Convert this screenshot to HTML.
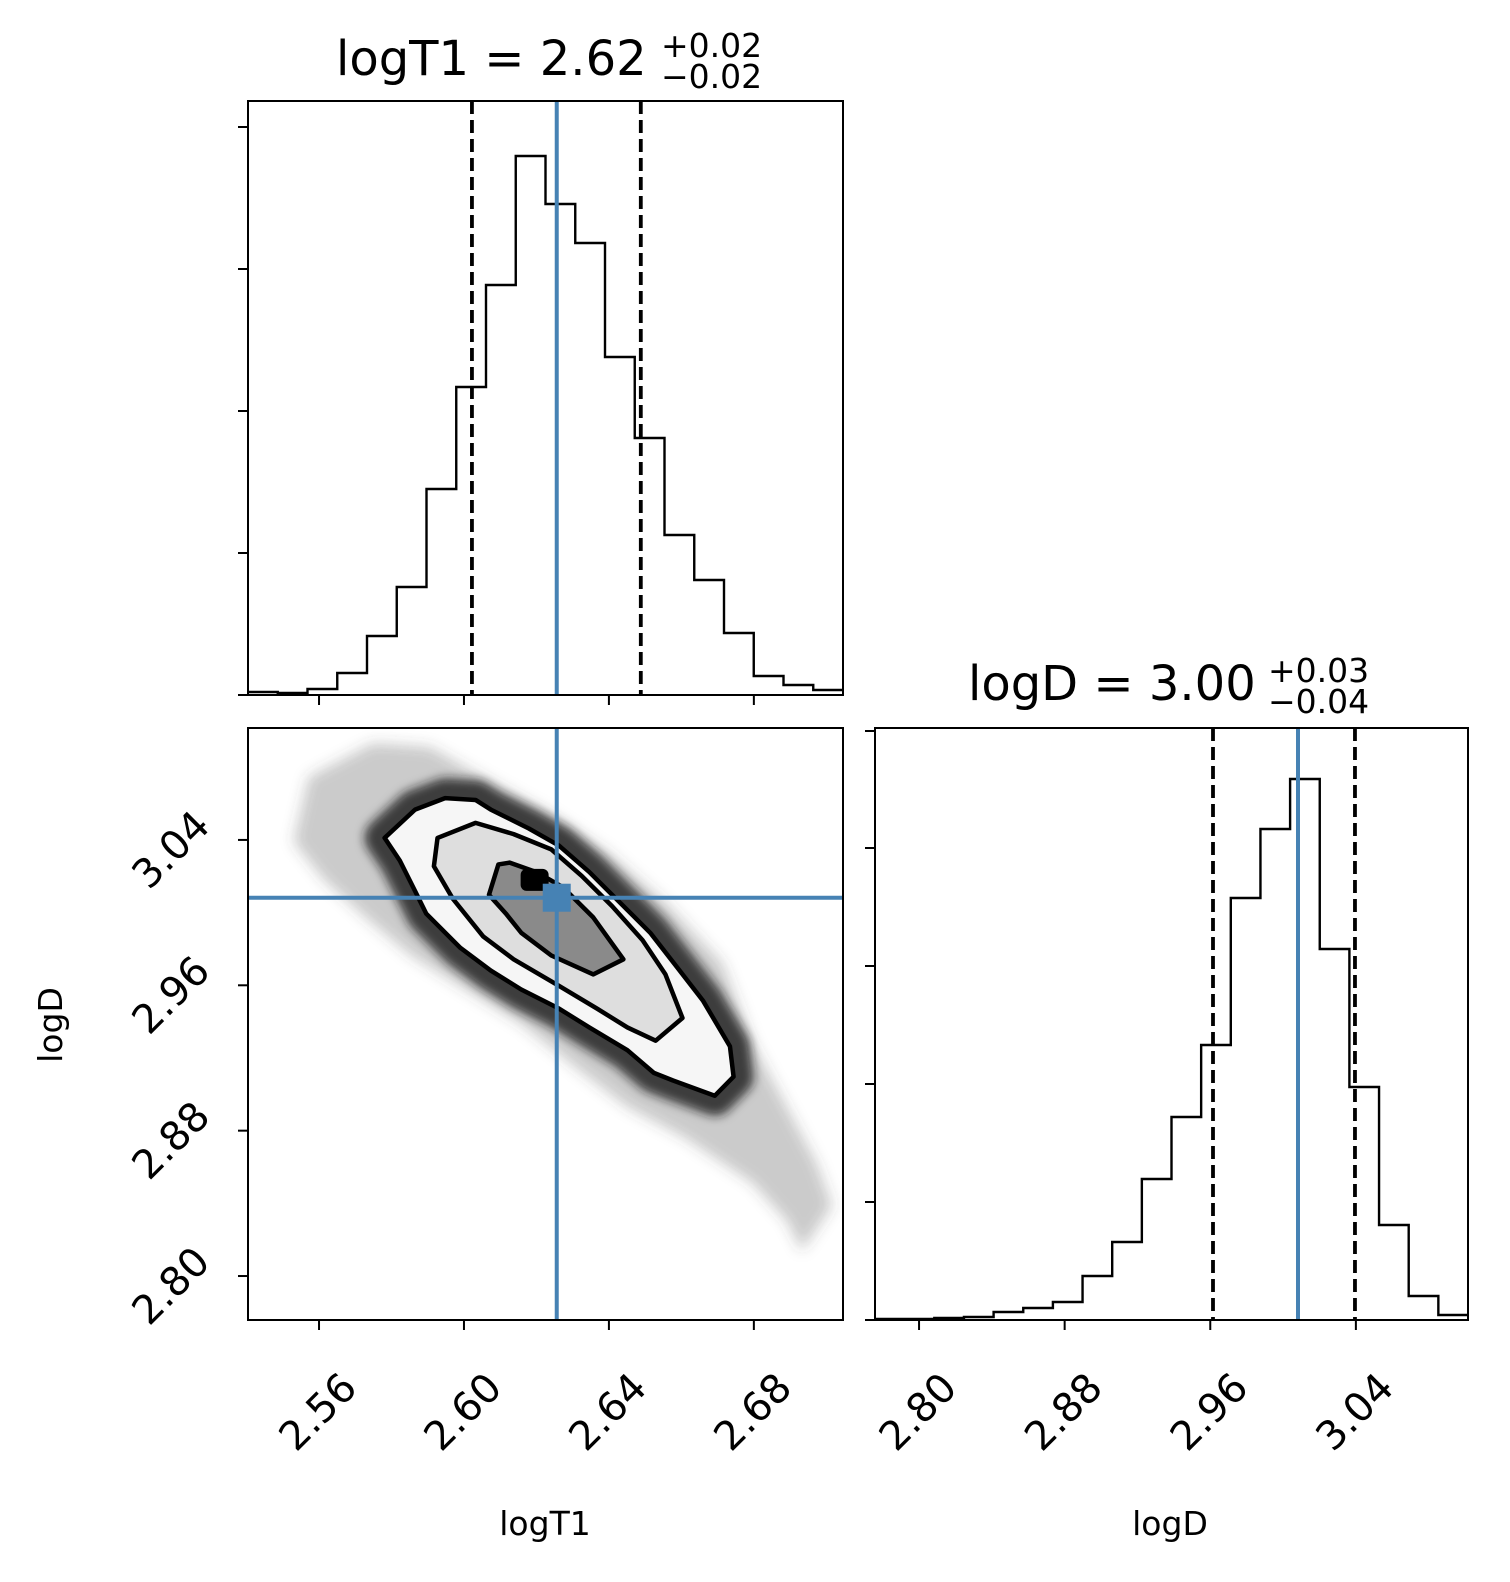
<!DOCTYPE html>
<html><head><meta charset="utf-8"><style>
html,body{margin:0;padding:0;background:#fff;overflow:hidden;}
svg{display:block;font-family:"DejaVu Sans","Liberation Sans",sans-serif;}
</style></head><body>
<svg id="fig" width="1510" height="1582" viewBox="0 0 1510 1582" xmlns="http://www.w3.org/2000/svg">
<defs>
<filter id="blur8" x="-20%" y="-20%" width="140%" height="140%"><feGaussianBlur stdDeviation="7"/></filter>
<filter id="blur4" x="-20%" y="-20%" width="140%" height="140%"><feGaussianBlur stdDeviation="5"/></filter>
<clipPath id="clip2d"><rect x="248" y="728" width="595" height="592"/></clipPath>
</defs>
<g id="root"></g>
</svg>
<script>
// ---- data ----
const histT1Counts = [3,2,6,22,59,108,206,308,410,539,491,452,338,257,160,115,62,19,10,5];
const histDCounts = [1,1,2,3,8,12,18,44,78,141,203,275,422,491,541,371,233,95,24,5];
const t1Range = [2.5404, 2.7046];
const dRange = [2.7758, 3.1016];
const t1Ticks = [2.56, 2.60, 2.64, 2.68];
const t1TickLabels = ["2.56","2.60","2.64","2.68"];
const dTicks = [2.80, 2.88, 2.96, 3.04];
const dTickLabels = ["2.80","2.88","2.96","3.04"];
const t1Quantiles = [2.6022, 2.6488];
const t1Median = 2.6256;
const dQuantiles = [2.9615, 3.0395];
const dMedian = 3.0082;
const histT1TickCounts = [0,142,284,426,568];
const histDTickCounts = [0,118,236,354,472,589];
const cloudX = [2.5571,2.5749,2.5906,2.6053,2.6242,2.6398,2.6556,2.6713,2.6796,2.6891,2.6974,2.7016,2.6932,2.6891,2.6796,2.6608,2.6451,2.6315,2.6158,2.5990,2.5854,2.5729,2.5613,2.5530];
const cloudY = [3.0745,3.0933,3.0912,3.0745,3.0536,3.0328,3.0056,2.9723,2.9284,2.8930,2.8617,2.8387,2.8137,2.8304,2.8513,2.8763,2.8930,2.9138,2.9389,2.9597,2.9764,2.9973,3.0182,3.0390];
const outerX = [2.5781,2.5865,2.5948,2.6032,2.6074,2.6179,2.6262,2.6346,2.6430,2.6514,2.6587,2.6660,2.6734,2.6744,2.6692,2.6577,2.6524,2.6451,2.6346,2.6262,2.6158,2.6074,2.5990,2.5896,2.5865,2.5823];
const outerY = [3.0411,3.0567,3.0630,3.0620,3.0567,3.0463,3.0369,3.0223,3.0056,2.9889,2.9702,2.9514,2.9264,2.9097,2.8992,2.9076,2.9118,2.9243,2.9368,2.9472,2.9577,2.9681,2.9806,2.9994,3.0119,3.0286];
const midX = [2.5917,2.5927,2.6032,2.6137,2.6241,2.6325,2.6409,2.6493,2.6556,2.6603,2.6529,2.6451,2.6367,2.6262,2.6137,2.6053,2.5969];
const midY = [3.0255,3.0411,3.0494,3.0432,3.0348,3.0202,3.0035,2.9848,2.9660,2.9420,2.9295,2.9368,2.9472,2.9597,2.9743,2.9869,3.0077];
const innerX = [2.6069,2.6095,2.6126,2.6200,2.6273,2.6357,2.6440,2.6357,2.6241,2.6158,2.6116];
const innerY = [3.0098,3.0265,3.0275,3.0223,3.0140,2.9973,2.9743,2.9660,2.9764,2.9889,2.9994];
const peakXY = [2.6195, 3.0180];

// ---- layout ----
const P1 = {x0:248,x1:843,y0:101,y1:695};
const P2 = {x0:248,x1:843,y0:728,y1:1320};
const P3 = {x0:875,x1:1468,y0:728,y1:1320};
const NS="http://www.w3.org/2000/svg";
const root=document.getElementById('root');
function mk(tag,attrs,parent){const e=document.createElementNS(NS,tag);for(const k in attrs)e.setAttribute(k,attrs[k]);(parent||root).appendChild(e);return e;}
const xT1 = v => P1.x0 + (v-t1Range[0])/(t1Range[1]-t1Range[0])*(P1.x1-P1.x0);
const yD2 = v => P2.y0 + (dRange[1]-v)/(dRange[1]-dRange[0])*(P2.y1-P2.y0);
const xD3 = v => P3.x0 + (v-dRange[0])/(dRange[1]-dRange[0])*(P3.x1-P3.x0);
const yH1 = c => P1.y1 - c/(568/(P1.y1-127));
const yH3 = c => P3.y1 - c;

function stepPath(counts, x0, x1, yf){
  const n=counts.length, w=(x1-x0)/n; let d=`M${x0},${yf(counts[0])}`;
  for(let i=0;i<n;i++){const xa=x0+i*w, xb=xa+w, y=yf(counts[i]); d+=` L${xa},${y} L${xb},${y}`;}
  return d;
}

// ---- panel 1: logT1 histogram ----
let g=mk('g',{});


let p=mk('path',{d:stepPath(histT1Counts,P1.x0,P1.x1,yH1),fill:'none',stroke:'#000','stroke-width':2.4},g);


t1Quantiles.forEach(q=>{const l=mk('line',{x1:xT1(q),x2:xT1(q),y1:P1.y0,y2:P1.y1,stroke:'#000','stroke-width':3.8,'stroke-dasharray':'13,6'},g);

});
let l=mk('line',{x1:xT1(t1Median),x2:xT1(t1Median),y1:P1.y0,y2:P1.y1,stroke:'#4682b4','stroke-width':4},g);


histT1TickCounts.forEach(c=>mk('line',{x1:P1.x0-10,x2:P1.x0,y1:yH1(c),y2:yH1(c),stroke:'#000','stroke-width':2},g));
t1Ticks.forEach(v=>mk('line',{x1:xT1(v),x2:xT1(v),y1:P1.y1,y2:P1.y1+10,stroke:'#000','stroke-width':2},g));
let fr=mk('rect',{x:P1.x0,y:P1.y0,width:P1.x1-P1.x0,height:P1.y1-P1.y0,fill:'none',stroke:'#000','stroke-width':2},g);



// ---- panel 2: 2D ----
g=mk('g',{'clip-path':'url(#clip2d)'});


const poly=(xs,ys)=>xs.map((x,i)=>`${xT1(x)},${yD2(ys[i])}`).join(' ');
let c=mk('polygon',{points:poly(cloudX,cloudY),fill:'#444','fill-opacity':0.28,filter:'url(#blur8)'},g);


let ring=mk('polygon',{points:poly(outerX,outerY),fill:'none',stroke:'#1a1a1a','stroke-opacity':0.8,'stroke-width':40,'stroke-linejoin':'round',filter:'url(#blur4)'},g);


let o=mk('polygon',{points:poly(outerX,outerY),fill:'#f6f6f6',stroke:'#000','stroke-width':4.5,'stroke-linejoin':'round'},g);


let m=mk('polygon',{points:poly(midX,midY),fill:'#dedede',stroke:'#000','stroke-width':4.5,'stroke-linejoin':'round'},g);


let i3=mk('polygon',{points:poly(innerX,innerY),fill:'#8a8a8a',stroke:'#000','stroke-width':4.5,'stroke-linejoin':'round'},g);


let pk=mk('rect',{x:xT1(peakXY[0])-14,y:yD2(peakXY[1])-11,width:28,height:22,rx:6,fill:'#000'},g);


let hl=mk('line',{x1:P2.x0,x2:P2.x1,y1:yD2(dMedian),y2:yD2(dMedian),stroke:'#4682b4','stroke-width':4},g);


let vl=mk('line',{x1:xT1(t1Median),x2:xT1(t1Median),y1:P2.y0,y2:P2.y1,stroke:'#4682b4','stroke-width':4},g);


let sq=mk('rect',{x:xT1(t1Median)-14,y:yD2(dMedian)-14,width:28,height:28,fill:'#4682b4'},g);


let g2=mk('g',{});
t1Ticks.forEach((v,k)=>{mk('line',{x1:xT1(v),x2:xT1(v),y1:P2.y1,y2:P2.y1+10,stroke:'#000','stroke-width':2},g2);
 const t=mk('text',{x:0,y:0,'font-size':40,'text-anchor':'end',transform:`translate(${xT1(v)+40},${P2.y1+70}) rotate(-45)`},g2);t.textContent=t1TickLabels[k];
 
 });
dTicks.forEach((v,k)=>{mk('line',{x1:P2.x0-10,x2:P2.x0,y1:yD2(v),y2:yD2(v),stroke:'#000','stroke-width':2},g2);
 const t=mk('text',{x:0,y:0,'font-size':40,'text-anchor':'end',transform:`translate(${P2.x0-36},${yD2(v)-12}) rotate(-45)`},g2);t.textContent=dTickLabels[k];
 
 });
fr=mk('rect',{x:P2.x0,y:P2.y0,width:P2.x1-P2.x0,height:P2.y1-P2.y0,fill:'none',stroke:'#000','stroke-width':2},g2);



// ---- panel 3: logD histogram ----
g=mk('g',{});


p=mk('path',{d:stepPath(histDCounts,P3.x0,P3.x1,yH3),fill:'none',stroke:'#000','stroke-width':2.4},g);


dQuantiles.forEach(q=>{const l=mk('line',{x1:xD3(q),x2:xD3(q),y1:P3.y0,y2:P3.y1,stroke:'#000','stroke-width':3.8,'stroke-dasharray':'13,6'},g);

});
l=mk('line',{x1:xD3(dMedian),x2:xD3(dMedian),y1:P3.y0,y2:P3.y1,stroke:'#4682b4','stroke-width':4},g);


histDTickCounts.forEach(c=>mk('line',{x1:P3.x0-10,x2:P3.x0,y1:yH3(c),y2:yH3(c),stroke:'#000','stroke-width':2},g));
dTicks.forEach((v,k)=>{mk('line',{x1:xD3(v),x2:xD3(v),y1:P3.y1,y2:P3.y1+10,stroke:'#000','stroke-width':2},g);
 const t=mk('text',{x:0,y:0,'font-size':40,'text-anchor':'end',transform:`translate(${xD3(v)+40},${P3.y1+70}) rotate(-45)`},g);t.textContent=dTickLabels[k];
 
 });
fr=mk('rect',{x:P3.x0,y:P3.y0,width:P3.x1-P3.x0,height:P3.y1-P3.y0,fill:'none',stroke:'#000','stroke-width':2},g);


</script>
<script>
(function(){
const NS="http://www.w3.org/2000/svg";const root=document.getElementById('root');
function txt(x,y,s,size,name,anchor,extra){const t=document.createElementNS(NS,'text');t.setAttribute('x',x);t.setAttribute('y',y);t.setAttribute('font-size',size);t.setAttribute('text-anchor',anchor);if(extra)for(const k in extra)t.setAttribute(k,extra[k]);t.textContent=s;root.appendChild(t);


return t;}
txt(336,75,'logT1 = 2.62',48,'logT1-title','start');
txt(661,57,'+0.02',33,'logT1-title-upper','start');
txt(661,88,'\u22120.02',33,'logT1-title-lower','start');
txt(968,700,'logD = 3.00',48,'logD-title','start');
txt(1268,682,'+0.03',33,'logD-title-upper','start');
txt(1268,713,'\u22120.04',33,'logD-title-lower','start');
txt(545,1535,'logT1',33,'x-axis-title-logT1','middle');
txt(1170,1535,'logD',33,'x-axis-title-logD','middle');
txt(0,0,'logD',33,'y-axis-title-logD','middle',{transform:'translate(62,1025) rotate(-90)'});
})();
</script>
</body></html>
